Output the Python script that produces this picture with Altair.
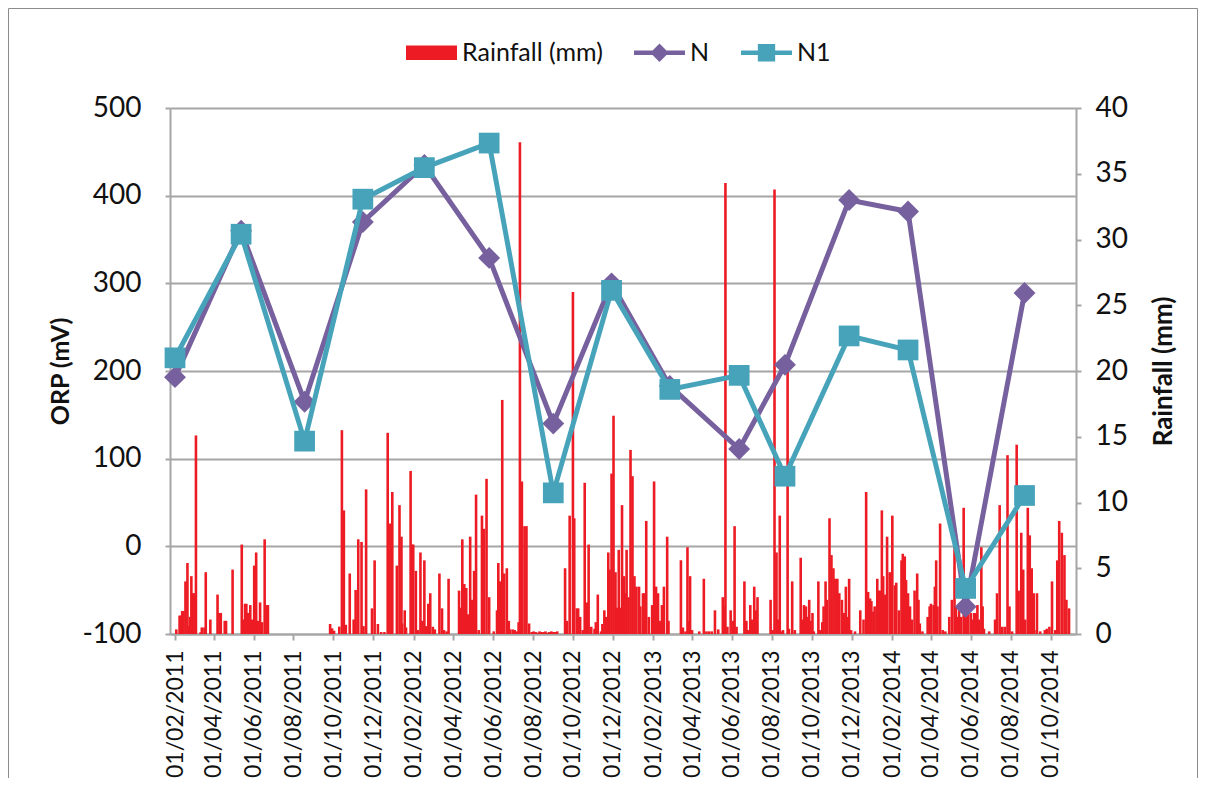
import altair as alt
import pandas as pd

FONT = "Lato"
RED = "#ED1C24"
PURPLE = "#77609E"
TEAL = "#46A3BA"
GRID = "#A6A6A6"

# ---- ORP samples ----
sample_dates = ["2011-02-01", "2011-05-13", "2011-08-18", "2011-11-15", "2012-02-17",
                "2012-05-26", "2012-09-01", "2012-11-29", "2013-02-26", "2013-06-12",
                "2013-08-21", "2013-11-27", "2014-02-25", "2014-05-24", "2014-08-22"]
orp_N = [193, 360, 165, 370, 435, 329, 140, 300, 183, 111, 207, 395, 382, -69, 289]
orp_N1 = [215, 356, 120, 396, 432, 460, 61, 292, 179, 195, 80, 240, 224, -48, 58]

# ---- daily rainfall (day number counted from 1 Feb 2011, mm) ----
rain_2011 = [(2, 0.35), (7, 1.4), (9, 1.4), (11, 1.75), (13, 1.75), (16, 4.0), (19, 5.4), (21, 0.6),
             (23, 1.3), (25, 4.4), (27, 3.1), (29, 3.1), (32, 15.1), (39, 0.13), (41, 0.5), (45, 0.5),
             (47, 4.7), (54, 1.1), (65, 3.0), (68, 1.6), (70, 1.6), (76, 1.0), (78, 1.0), (88, 4.9),
             (102, 6.8), (105, 1.1), (107, 2.3), (109, 2.3), (112, 1.6), (115, 2.2), (118, 1.1),
             (121, 5.2), (124, 6.2), (127, 1.0), (130, 2.4), (133, 0.9), (137, 7.2), (140, 2.2),
             (142, 2.2), (237, 0.76), (240, 0.43), (243, 0.25), (251, 0.56), (255, 15.5), (258, 9.4),
             (261, 0.7), (267, 4.6), (273, 1.1), (276, 3.35), (280, 7.2), (285, 7.0), (288, 0.6),
             (292, 11.0), (301, 1.95), (305, 5.6), (310, 0.76), (315, 0.15), (320, 0.15), (325, 15.3),
             (329, 8.4), (332, 10.8)]
rain_2012 = [(339, 5.2), (343, 9.8), (346, 7.4), (347, 0.8), (351, 1.8), (353, 0.5), (360, 12.4),
             (362, 6.8), (364, 6.8), (368, 4.8), (371, 0.3), (375, 6.2), (378, 1.0), (381, 5.6),
             (384, 0.6), (387, 2.3), (390, 3.1), (394, 0.55), (397, 0.35), (404, 4.6), (408, 1.95),
             (411, 0.3), (415, 0.2), (418, 4.2), (434, 3.3), (436, 2.0), (439, 7.2), (442, 3.8),
             (445, 3.5), (448, 1.5), (451, 7.4), (454, 2.6), (457, 4.8), (460, 10.6), (464, 0.3),
             (469, 9.0), (472, 8.0), (476, 11.8), (480, 2.8), (487, 0.2), (492, 1.8), (494, 5.4),
             (497, 4.0), (500, 17.8), (503, 4.6), (507, 5.0), (510, 1.0), (512, 0.35), (516, 0.35),
             (519, 0.3), (522, 0.2), (525, 0.9), (527, 37.4), (530, 11.6), (534, 8.2), (537, 8.2),
             (541, 0.8), (545, 0.15), (548, 0.2), (551, 0.15), (554, 0.1), (557, 0.2), (560, 0.15),
             (563, 0.15), (566, 0.2), (569, 0.1), (572, 0.15), (575, 0.2), (578, 0.15), (581, 0.15),
             (584, 0.2), (596, 5.0), (599, 1.0), (603, 9.0), (608, 26.0), (610, 8.8), (614, 1.95),
             (616, 1.95), (619, 1.3), (623, 0.3), (626, 11.5), (629, 2.4), (632, 6.8), (636, 0.55),
             (641, 0.4), (643, 0.9), (646, 3.0), (651, 0.2), (653, 0.76), (656, 1.8), (659, 1.3),
             (662, 6.2), (664, 4.9), (667, 12.2), (670, 16.6), (673, 4.7), (675, 2.0), (678, 6.4),
             (680, 2.0), (683, 9.8), (686, 4.4), (688, 3.1), (690, 6.4), (693, 2.8), (696, 14.0),
             (699, 12.0)]
rain_2013 = [(702, 4.4), (705, 3.6), (709, 3.6), (711, 2.1), (715, 3.1), (717, 3.1), (720, 8.6),
             (724, 1.3), (729, 2.2), (732, 11.6), (735, 3.6), (738, 3.1), (741, 1.0), (744, 2.2),
             (747, 3.6), (752, 7.4), (754, 1.0), (773, 5.6), (776, 0.5), (780, 0.2), (783, 6.6),
             (785, 1.0), (787, 4.4), (790, 0.3), (801, 0.2), (808, 4.2), (812, 0.2), (816, 0.2),
             (820, 0.2), (825, 1.8), (830, 0.35), (837, 2.8), (839, 2.1), (841, 34.3), (844, 0.55),
             (849, 1.8), (853, 1.0), (855, 8.2), (858, 0.55), (870, 4.0), (873, 1.0), (875, 0.3),
             (879, 2.2), (882, 1.1), (885, 3.6), (888, 1.8), (890, 2.8), (910, 2.6), (913, 0.3),
             (916, 33.8), (919, 6.2), (921, 1.1), (924, 9.0), (927, 0.2), (929, 0.3), (936, 20.3),
             (938, 0.4), (943, 4.0), (947, 0.3), (956, 5.8), (958, 1.1), (961, 2.2), (964, 2.1),
             (966, 1.3), (969, 2.6), (971, 1.0), (974, 1.6), (976, 0.2), (983, 4.0), (986, 0.3),
             (989, 0.9), (991, 2.1), (994, 4.0), (996, 2.6), (1000, 8.8), (1003, 6.0), (1006, 5.0),
             (1009, 4.2), (1012, 4.2), (1015, 3.1), (1019, 2.6), (1022, 1.6), (1025, 3.6), (1028, 1.3),
             (1030, 4.2), (1033, 0.3), (1039, 0.2), (1047, 1.8), (1052, 1.1), (1056, 10.8), (1059, 3.2),
             (1062, 2.7), (1064, 2.5)]
rain_2014 = [(1067, 1.7), (1069, 2.1), (1073, 4.2), (1075, 3.3), (1077, 3.3), (1080, 9.4), (1082, 4.4),
             (1085, 3.0), (1088, 7.4), (1092, 4.7), (1095, 3.6), (1096, 9.0), (1100, 3.7), (1102, 3.9),
             (1106, 1.8), (1110, 5.6), (1112, 6.1), (1115, 5.9), (1117, 4.1), (1120, 3.1), (1123, 2.1),
             (1126, 1.1), (1130, 3.3), (1134, 4.6), (1136, 2.6), (1138, 0.8), (1142, 0.2), (1150, 1.3),
             (1153, 2.1), (1155, 2.3), (1159, 2.2), (1161, 3.6), (1163, 5.6), (1165, 2.1), (1169, 8.4),
             (1173, 0.3), (1177, 0.2), (1183, 1.3), (1187, 2.6), (1191, 6.9), (1193, 2.1), (1196, 1.3),
             (1198, 2.3), (1201, 1.3), (1205, 9.6), (1207, 2.6), (1209, 2.1), (1212, 1.6), (1216, 1.6),
             (1218, 1.1), (1221, 1.6), (1224, 1.6), (1226, 2.2), (1228, 1.1), (1232, 6.6), (1234, 2.1),
             (1236, 0.4), (1244, 0.2), (1253, 1.1), (1256, 3.1), (1260, 9.8), (1264, 0.55), (1268, 0.55),
             (1272, 13.6), (1275, 2.1), (1279, 0.2), (1286, 14.4), (1289, 3.3), (1293, 7.7), (1296, 4.9),
             (1299, 1.1), (1303, 9.6), (1306, 7.5), (1309, 5.0), (1312, 3.1), (1313, 0.3), (1317, 3.1),
             (1322, 0.2), (1329, 0.3), (1332, 0.4), (1336, 0.55), (1340, 4.0), (1345, 0.3), (1348, 5.6),
             (1351, 8.6), (1355, 7.7), (1359, 6.0), (1362, 2.6), (1366, 1.95)]

series_names = ["Rainfall (mm)", "N", "N1"]
series_colors = [RED, PURPLE, TEAL]
tick_months = [(2011, m) for m in (2, 4, 6, 8, 10, 12)] + [(2012, m) for m in (2, 4, 6, 8, 10, 12)] + \
              [(2013, m) for m in (2, 4, 6, 8, 10, 12)] + [(2014, m) for m in (2, 4, 6, 8, 10)]
orp_ticks = [-100, 0, 100, 200, 300, 400, 500]
rain_ticks = [0, 5, 10, 15, 20, 25, 30, 35, 40]

# ---- tables ----
rain_pairs = rain_2011 + rain_2012 + rain_2013 + rain_2014
rain_df = pd.DataFrame(rain_pairs, columns=["day", "mm"])
rain_df["date"] = pd.Timestamp("2011-02-01") + pd.to_timedelta(rain_df["day"], unit="D")
orp_df = pd.DataFrame({"date": pd.to_datetime(sample_dates), "N": orp_N, "N1": orp_N1})
legend_df = pd.DataFrame({"series": series_names})
frame_df = pd.DataFrame({"k": [0]})

x_scale = alt.Scale(domain=[alt.DateTime(year=2011, month=2, date=1),
                            alt.DateTime(year=2014, month=11, date=1)], nice=False)
x_axis = alt.Axis(values=[alt.DateTime(year=y, month=m, date=1) for y, m in tick_months],
                  format="%d/%m/%Y", labelAngle=270, labelFontSize=23, labelPadding=10,
                  tickSize=6, grid=False, title=None, labelColor="#111")
X = alt.X("date:T", scale=x_scale, axis=x_axis)

orp_scale = alt.Scale(domain=[-100, 500], nice=False, zero=False)
y_left = alt.Axis(values=orp_ticks, orient="left", grid=True, tickSize=5, labelPadding=24,
                  labelFontSize=28, labelColor="#111",
                  labelExpr="datum.value < 0 ? '-' + abs(datum.value) : '' + datum.value",
                  title="ORP (mV)", titleFontSize=25, titleFontWeight="bold", titleAngle=270,
                  titleX=-110, titleY=263, titleAlign="center", titleBaseline="middle", titleColor="#111")
y_right = alt.Axis(values=rain_ticks, orient="right", grid=False, tickSize=5, labelPadding=14,
                   labelFontSize=28, labelColor="#111",
                   title="Rainfall (mm)", titleFontSize=26, titleFontWeight="bold", titleAngle=270,
                   titleX=87, titleY=263, titleAlign="center", titleBaseline="middle", titleColor="#111")

legend_paths = [
    "M-1,-0.28H1V0.28H-1Z",
    "M-1,-0.09H1V0.09H-1Z M0,-0.36L0.36,0L0,0.36L-0.36,0Z",
    "M-1,-0.09H1V0.09H-1Z M-0.34,-0.34H0.34V0.34H-0.34Z",
]
leg = alt.Legend(orient="none", legendX=236, legendY=-81, direction="horizontal",
                 symbolSize=2600, symbolStrokeWidth=0, symbolOpacity=1, labelFontSize=25, labelFont=FONT,
                 labelOffset=5, columnPadding=31, padding=0, labelLimit=300, labelColor="#111")

frame = alt.Chart(frame_df).mark_rect(filled=False, stroke="#8C8C8C", strokeWidth=1).encode(
    x=alt.value(-161.5), x2=alt.value(1027.5), y=alt.value(-99.5), y2=alt.value(720)
)

bars = alt.Chart(rain_df).mark_bar(color=RED, width=2.6).encode(
    x=X,
    y=alt.Y("mm:Q", scale=alt.Scale(domain=[0, 40], nice=False), axis=y_right),
)

lineN = alt.Chart(orp_df).mark_line(color=PURPLE, strokeWidth=5).encode(
    x=X, y=alt.Y("N:Q", scale=orp_scale, axis=y_left))
ptsN = alt.Chart(orp_df).mark_point(filled=True, shape="diamond", size=480, color=PURPLE, opacity=1).encode(
    x=X, y=alt.Y("N:Q", scale=orp_scale, axis=y_left))
lineN1 = alt.Chart(orp_df).mark_line(color=TEAL, strokeWidth=5).encode(
    x=X, y=alt.Y("N1:Q", scale=orp_scale, axis=y_left))
ptsN1 = alt.Chart(orp_df).mark_point(filled=True, shape="square", size=430, color=TEAL, opacity=1).encode(
    x=X, y=alt.Y("N1:Q", scale=orp_scale, axis=y_left))

legend_layer = alt.Chart(legend_df).mark_point(filled=True, size=0, opacity=1).encode(
    x=alt.value(0), y=alt.value(0),
    color=alt.Color("series:N", title=None, legend=leg,
                    scale=alt.Scale(domain=series_names, range=series_colors)),
    shape=alt.Shape("series:N", title=None, legend=leg,
                    scale=alt.Scale(domain=series_names, range=legend_paths)),
)

orp_layers = alt.layer(lineN, ptsN, lineN1, ptsN1, legend_layer)

chart = alt.layer(frame, bars, orp_layers).resolve_scale(y="independent").properties(
    width=906, height=526, autosize="none",
    padding={"left": 162, "top": 100, "right": 122, "bottom": 144},
    background="white",
).configure_view(stroke=None).configure_axis(
    domainColor=GRID, domainWidth=2, tickColor=GRID, tickWidth=2, gridColor=GRID, gridWidth=2,
    labelFont=FONT, titleFont=FONT,
)

chart.save("out.html", embed_options={"renderer": "svg", "actions": False})
